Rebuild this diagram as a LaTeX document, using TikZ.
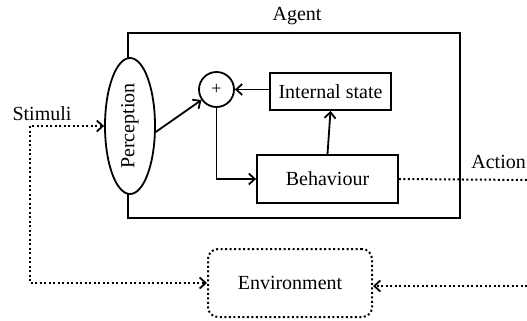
\documentclass[tikz,border=0pt]{standalone}
\usepackage{fontspec}
\setmainfont{Liberation Serif}
\usetikzlibrary{arrows.meta,shapes.geometric}
\begin{document}
\begin{tikzpicture}[x=1pt,y=-1pt,
 every node/.style={font=\fontsize{20}{24}\selectfont},
 solidline/.style={line width=1.8pt},
 dotline/.style={line width=2pt, dash pattern=on 2pt off 2.5pt},
 tip/.style={-{Straight Barb[length=6pt,width=11pt,line width=1.8pt]}},
 twotip/.style={{Straight Barb[length=6pt,width=11pt,line width=1.8pt]}-{Straight Barb[length=6pt,width=11pt,line width=1.8pt]}},
 box/.style={draw, line width=1.8pt, inner sep=0pt, fill=white},
]
\useasboundingbox (0,0) rectangle (527,321);
\node[box, fill=none, minimum width=332pt, minimum height=185pt] (agent) at (294,125.5) {};
\node (agentlbl) at (297,16) {Agent};
\node[box, ellipse, minimum width=50pt, minimum height=136pt] (perc) at (130,126) {\rotatebox{90}{Perception}};
\node[box, circle, minimum size=35pt, font=\fontsize{18}{20}\selectfont] (plus) at (216.5,89.5) {+};
\node[box, minimum width=121pt, minimum height=37pt] (int) at (330.5,91.5) {Internal state};
\node[box, minimum width=141pt, minimum height=48pt] (beh) at (327.5,179) {Behaviour};
\node[draw, dotline, rounded corners=10pt, minimum width=164pt, minimum height=68pt] (env) at (290,283) {Environment};
\node (stim) at (42,114) {Stimuli};
\node[anchor=east, inner sep=1pt] (act) at (527,162) {Action};
\coordinate (sc) at (30,126);
\coordinate (ar) at (527,180);
\coordinate (er) at (527,286);
% solid connectors
\draw[solidline, tip] (perc.-13) -- (plus);
\draw[solidline, tip] (int.west |- plus.east) -- (plus.east);
\draw[solidline, tip] (beh.north) -- (int.south);
\draw[solidline, tip] (plus.south) |- (beh.west);
% dotted connectors
\draw[dotline, twotip] (perc.west) -- (sc) |- (env.west);
\draw[dotline] (beh.east) -- (ar);
\draw[dotline, tip] (er) -- (env.east |- er);
\end{tikzpicture}
\end{document}
